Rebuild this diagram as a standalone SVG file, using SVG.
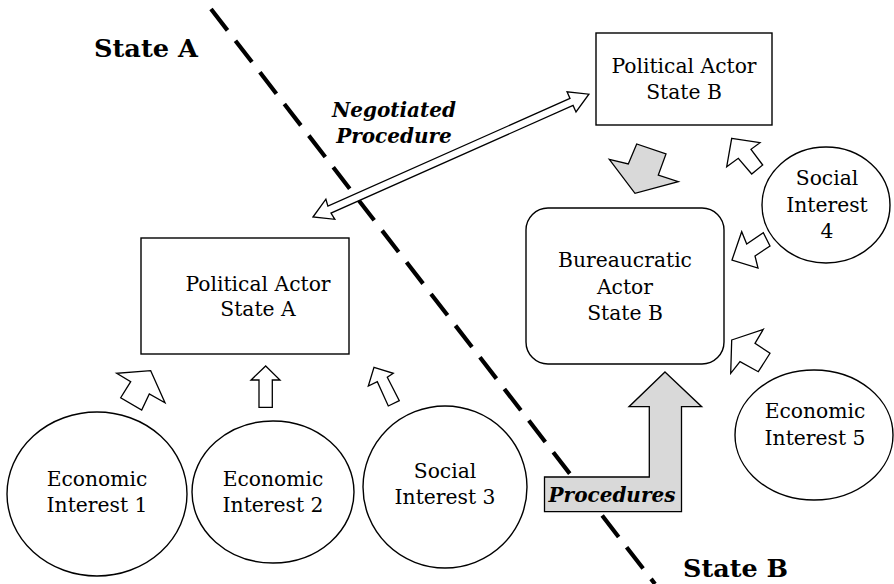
<svg xmlns="http://www.w3.org/2000/svg" width="894" height="584" viewBox="0 0 894 584">
<style>
.box{fill:#fff;stroke:#000;stroke-width:1.4}
.t{font-family:"DejaVu Serif","Liberation Serif",serif;font-size:20.3px;fill:#000;text-anchor:middle}
.b{font-family:"DejaVu Serif","Liberation Serif",serif;font-weight:bold;font-size:24px;fill:#000}
.bi{font-family:"DejaVu Serif","Liberation Serif",serif;font-weight:bold;font-style:italic;font-size:20px;fill:#000;text-anchor:middle}
.wa{fill:#fff;stroke:#000;stroke-width:1.3;stroke-linejoin:miter}
.ga{fill:#d9d9d9;stroke:#000;stroke-width:1.3}
</style>
<rect width="894" height="584" fill="#fff"/>
<g id="divider">
<line x1="211" y1="9" x2="655" y2="584" stroke="#000" stroke-width="4.2" stroke-dasharray="27 13"/>
</g>
<text class="b" x="94" y="57" textLength="104" lengthAdjust="spacingAndGlyphs">State A</text>
<text class="b" x="683" y="577" textLength="105" lengthAdjust="spacingAndGlyphs">State B</text>
<g id="political-b">
<rect class="box" x="596" y="33" width="176" height="92"/>
<text class="t" x="684" y="73">Political Actor</text>
<text class="t" x="684" y="99">State B</text>
</g>
<g id="political-a">
<rect class="box" x="141" y="238" width="208" height="116"/>
<text class="t" x="258" y="291">Political Actor</text>
<text class="t" x="258" y="316">State A</text>
</g>
<g id="bureaucratic-b">
<rect class="box" x="526" y="208" width="198" height="156" rx="22"/>
<text class="t" x="625" y="267">Bureaucratic</text>
<text class="t" x="625" y="294">Actor</text>
<text class="t" x="625" y="320">State B</text>
</g>
<g id="econ1">
<ellipse class="box" cx="97" cy="494" rx="90" ry="82"/>
<text class="t" x="97" y="486">Economic</text>
<text class="t" x="97" y="512">Interest 1</text>
</g>
<g id="econ2">
<ellipse class="box" cx="273" cy="492" rx="81" ry="71"/>
<text class="t" x="273" y="486">Economic</text>
<text class="t" x="273" y="512">Interest 2</text>
</g>
<g id="social3">
<ellipse class="box" cx="445" cy="487" rx="82" ry="81"/>
<text class="t" x="445" y="478">Social</text>
<text class="t" x="445" y="504">Interest 3</text>
</g>
<g id="social4">
<ellipse class="box" cx="826" cy="205" rx="64" ry="58"/>
<text class="t" x="827" y="185">Social</text>
<text class="t" x="827" y="212">Interest</text>
<text class="t" x="827" y="238">4</text>
</g>
<g id="econ5">
<ellipse class="box" cx="814" cy="435" rx="79" ry="65"/>
<text class="t" x="815" y="418">Economic</text>
<text class="t" x="815" y="445">Interest 5</text>
</g>
<g id="connectors">
<polygon class="wa" transform="translate(313,217) rotate(-24)" points="0,0 19,-11 18,-3.8 283,-3.8 283,-11 302,0 283,11 283,3.8 18,3.8 19,11"/>
<polygon class="wa" points="150.7,370.7 165,402.7 149.3,394 141.7,410 120.7,397.7 130.7,381.7 116.7,373.3"/>
<polygon class="wa" points="265.7,366 280,380 272.3,380 272.3,407.3 259,407.3 259,380 251,380"/>
<polygon class="wa" points="374,367.3 393.3,373.3 387.3,377.3 399.3,400.7 388.3,406 377.3,381.7 368.3,386"/>
<polygon class="ga" points="609.3,159.3 628.3,164 636.7,144 666,154 658.3,175 678.3,181.7 635,193.3"/>
<polygon class="wa" points="731.7,138.3 760,142.7 751,149.3 762.7,165 751.7,174 738.3,158.3 726.7,166.7"/>
<polygon class="wa" points="732,260 741.7,231.7 746.7,244 763.3,232.7 770,246 755,256 758,268"/>
<polygon class="wa" points="731.7,340 763.3,329.3 755,343.3 770,353.3 758.3,371.7 740,361.7 730.7,373.3"/>
<polygon class="ga" points="665,372 701.7,406.7 681.5,406.7 681.5,511.7 544.5,511.7 544.5,477 649.3,477 649.3,406.7 629,406.7"/>
</g>
<text class="bi" x="394" y="117">Negotiated</text>
<text class="bi" x="394" y="143">Procedure</text>
<text class="bi" x="612" y="502">Procedures</text>
</svg>
